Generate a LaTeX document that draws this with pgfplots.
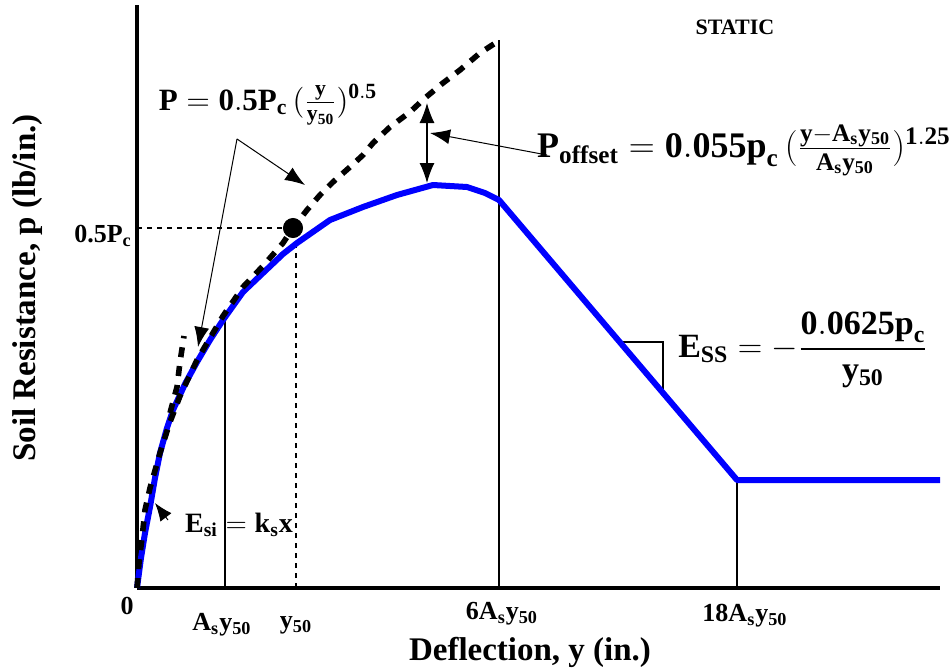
\documentclass[border=0pt]{standalone}
\usepackage{fix-cm}
\usepackage{amsmath}
\usepackage{pgfplots}
\pgfplotsset{compat=1.18}
\usetikzlibrary{arrows.meta}
\usepackage{fontspec}
\setmainfont{Liberation Serif}
\newcommand{\B}[1]{\mathbf{#1}}
\begin{document}
\begin{tikzpicture}
\begin{axis}[
  x=0.5pt, y=0.5pt,
  xmin=0, xmax=803, ymin=0, ymax=583,
  axis lines=left,
  axis line style={-, line width=2pt, black},
  xtick=\empty, ytick=\empty,
  clip=false,
  font=\bfseries,
]
% reference lines
\addplot[black, line width=0.6pt] coordinates {(88,0) (88,270)};
\addplot[black, line width=0.6pt] coordinates {(362,0) (362,548)};
\addplot[black, line width=0.6pt] coordinates {(600,0) (600,108)};
\addplot[black, line width=0.8pt, dash pattern=on 2.5pt off 2.5pt] coordinates {(0,360) (150,360)};
\addplot[black, line width=0.8pt, dash pattern=on 2.5pt off 2.5pt] coordinates {(159,0) (159,348)};
% right angle marker
\addplot[black, line width=0.6pt] coordinates {(483,246) (526,246) (526,195)};
% p-y curve
\addplot[color={rgb,255:red,0;green,0;blue,255}, line width=3pt, line join=round] coordinates {
(0,0) (4,30) (8,55) (13,81) (18,110) (23,135) (30,160) (36,178) (48,204) (60,226)
(73,248) (86,268) (106,296) (126,315) (146,334) (160,345) (193,368) (226,381)
(260,393) (296,403) (313,402) (330,401) (348,395) (362,388) (600,108) (803,108)};
% dashed power curve and offset curve
\addplot[black, line width=2.8pt, dash pattern=on 5pt off 4.5pt] coordinates {
(0,0) (2,25) (5,50) (8,78) (13,100) (23,135) (33,166) (43,192) (60,228) (86,272)
(106,301) (126,322) (146,345) (156,360) (170,378) (183,393) (196,406) (213,421)
(226,433) (236,445) (253,461) (273,476) (288,490) (306,505) (323,518) (343,535) (363,548)};
\addplot[black, line width=2.8pt, dash pattern=on 5pt off 4.5pt] coordinates {
(33,175) (40,201) (43,226) (47,252)};
\addplot[black, only marks, mark=*, mark size=4.8pt] coordinates {(156,360)};
% arrows
\draw[black, line width=0.5pt, -{Latex[length=10pt,width=7.5pt]}] (axis cs:100,449) -- (axis cs:168,403);
\draw[black, line width=0.5pt, -{Latex[length=10pt,width=7.5pt]}] (axis cs:100,449) -- (axis cs:61,241);
\draw[black, line width=0.6pt, {Latex[length=10pt,width=7.5pt]}-{Latex[length=10pt,width=7.5pt]}] (axis cs:290,405) -- (axis cs:290,485);
\draw[black, line width=0.5pt, -{Latex[length=10pt,width=7.5pt]}] (axis cs:410,433) -- (axis cs:293,455);
\draw[black, line width=0.5pt, -{Latex[length=9pt,width=7pt]}] (axis cs:31,68) -- (axis cs:18,85);
% texts
\node[font=\fontsize{11}{13}\selectfont\bfseries] at (axis cs:598,561) {STATIC};
\node[font=\fontsize{15.5}{18}\selectfont\bfseries] at (axis cs:131,483)
  {$\B{P} = \B{0.5P}_{\B{c}}\,(\frac{\B{y}}{\B{y}_{\B{50}}})^{\B{0.5}}$};
\node[font=\fontsize{18}{21}\selectfont\bfseries] at (axis cs:607,438)
  {$\B{P}_{\B{offset}} = \B{0.055p}_{\B{c}}\,(\frac{\B{y}-\B{A}_{\B{s}}\B{y}_{\B{50}}}{\B{A}_{\B{s}}\B{y}_{\B{50}}})^{\B{1.25}}$};
\node[font=\fontsize{17}{20}\selectfont\bfseries] at (axis cs:666,238)
  {$\B{E}_{\B{SS}} = -\dfrac{\B{0.0625p}_{\B{c}}}{\B{y}_{\B{50}}}$};
\node[font=\fontsize{14}{17}\selectfont\bfseries] at (axis cs:102,63)
  {$\B{E}_{\B{si}} = \B{k}_{\B{s}}\B{x}$};
% tick labels
\node[font=\fontsize{13}{15}\selectfont\bfseries] at (axis cs:-10,-18) {0};
\node[font=\fontsize{13}{15}\selectfont\bfseries] at (axis cs:85,-37) {A\textsubscript{s}y\textsubscript{50}};
\node[font=\fontsize{13}{15}\selectfont\bfseries] at (axis cs:159,-37) {y\textsubscript{50}};
\node[font=\fontsize{13}{15}\selectfont\bfseries] at (axis cs:365,-26) {6A\textsubscript{s}y\textsubscript{50}};
\node[font=\fontsize{13}{15}\selectfont\bfseries] at (axis cs:608,-28) {18A\textsubscript{s}y\textsubscript{50}};
\node[font=\fontsize{13}{15}\selectfont\bfseries] at (axis cs:-34,352) {0.5P\textsubscript{c}};
% axis titles
\node[font=\fontsize{16.5}{19}\selectfont\bfseries] at (axis cs:393,-64) {Deflection, y (in.)};
\node[font=\fontsize{16.5}{19}\selectfont\bfseries, rotate=90] at (axis cs:-109,300) {Soil Resistance, p (lb/in.)};
\coordinate (bl) at (axis cs:-137,-82);
\coordinate (tr) at (axis cs:814,588);
\end{axis}
\pgfresetboundingbox
\path[use as bounding box] (bl) rectangle (tr);
\end{tikzpicture}
\end{document}
